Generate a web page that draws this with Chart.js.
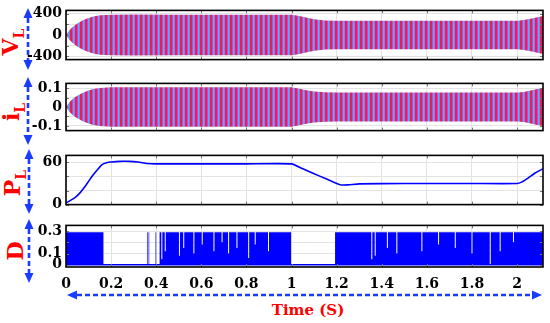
<!DOCTYPE html>
<html lang="en">
<head>
<meta charset="UTF-8">
<script src="https://cdn.jsdelivr.net/npm/chart.js"></script>
<style>
  body { margin: 0; background: #fff; width: 550px; height: 323px; overflow: hidden; position: relative; font-family: "DejaVu Serif", serif; }
  canvas { position: absolute; left: 0; }
  svg { position: absolute; left: 0; top: 0; }
  .ttl { position: absolute; color: #f00; font-weight: bold; font-size: 22px; white-space: nowrap;
         transform: translate(-50%, -50%) rotate(-90deg); }
  .ttl sub { font-size: 14px; }
  #xt { position: absolute; left: 308px; top: 310px; transform: translate(-50%, -50%); color: #f00; font-weight: bold; font-size: 15px; white-space: nowrap; }
</style>
</head>
<body>
<svg id="arrows" width="550" height="323"></svg>
<div class="ttl" style="left:12px;top:42px">V<sub>L</sub></div>
<div class="ttl" style="left:13px;top:112px">i<sub>L</sub></div>
<div class="ttl" style="left:14px;top:183px">P<sub>L</sub></div>
<div class="ttl" style="left:15px;top:251px">D</div>
<div id="xt">Time (S)</div>
<script>
// shared time axis
const xMax = 2.115;
const xTicks = [0, 0.2, 0.4, 0.6, 0.8, 1, 1.2, 1.4, 1.6, 1.8, 2];

// envelope of V_L and i_L
const envTime = [0, 0.015, 0.032, 0.05, 0.077, 0.1, 0.121, 0.15, 0.2, 0.3, 0.5, 0.8, 1.0, 1.03, 1.06, 1.1, 1.15, 1.2, 1.5, 2.0, 2.03, 2.06, 2.09, 2.115];
const vEnv = [0, 90, 160, 215, 280, 320, 345, 370, 380, 385, 380, 380, 380, 360, 330, 295, 272, 267, 267, 267, 280, 305, 330, 355];
const iEnv = [0, 0.025, 0.045, 0.06, 0.077, 0.088, 0.095, 0.1, 0.104, 0.105, 0.104, 0.104, 0.104, 0.098, 0.09, 0.082, 0.078, 0.077, 0.077, 0.077, 0.08, 0.088, 0.095, 0.1];

// P_L
const pTime = [0, 0.02, 0.04, 0.06, 0.08, 0.1, 0.12, 0.14, 0.16, 0.18, 0.2, 0.24, 0.28, 0.32, 0.36, 0.4, 0.6, 0.8, 1.0, 1.05, 1.1, 1.15, 1.2, 1.22, 1.25, 1.3, 1.5, 1.8, 2.0, 2.02, 2.05, 2.08, 2.115];
const pVal = [2.5, 6, 10, 16, 24, 33, 42, 50, 57, 59.5, 60.5, 61.5, 61.5, 60.5, 58.5, 58, 58, 58, 58, 51, 44, 37, 30, 28, 28, 29.5, 30, 30, 30, 32, 38, 45, 51];

// D : switching intervals and white gaps [time, level]
const dHigh = 0.29, dLow = 0;
const dOn = [[0, 0.166], [0.359, 0.362], [0.366, 0.369], [0.373, 0.376], [0.386, 0.388], [0.397, 0.4], [0.405, 0.407], [0.415, 0.998], [1.193, 2.115]];
const dGaps = [[0.425, 0.05], [0.44, 0.12], [0.503, 0.08], [0.522, 0.15], [0.567, 0.1], [0.604, 0.18], [0.656, 0.12], [0.692, 0.2], [0.721, 0.1], [0.758, 0.15], [0.81, 0.06], [0.839, 0.18], [0.898, 0.12],
               [1.356, 0.05], [1.371, 0.08], [1.425, 0.15], [1.467, 0.1], [1.578, 0.12], [1.652, 0.18], [1.726, 0.15], [1.8, 0.1], [1.881, 0], [1.925, 0.12], [1.984, 0.2]];

const tickFont = { family: "DejaVu Serif", size: 14, weight: "bold" };
const gridCol = "#e3e3e3";

function stripes() {
  const c = document.createElement("canvas");
  c.width = 5; c.height = 1;
  const g = c.getContext("2d");
  ["#ff1744", "#ff1744", "#d63cd6", "#3fb6ff", "#6f86ff"].forEach((col, i) => { g.fillStyle = col; g.fillRect(i, 0, 1, 1); });
  return g.createPattern(c, "repeat");
}

function buildD() {
  const w = 0.0022;
  const pts = [{ x: 0, y: dLow }];
  dOn.forEach(([a, b]) => {
    pts.push({ x: a, y: dLow }, { x: a, y: dHigh });
    dGaps.filter(g => g[0] > a && g[0] < b).forEach(([t, l]) => {
      pts.push({ x: t - w, y: dHigh }, { x: t - w, y: l }, { x: t + w, y: l }, { x: t + w, y: dHigh });
    });
    pts.push({ x: b, y: dHigh }, { x: b, y: dLow });
  });
  pts.push({ x: xMax, y: dLow });
  return pts;
}

const boxPlugin = {
  id: "box",
  afterDraw(c) {
    const a = c.chartArea, ctx = c.ctx;
    ctx.save();
    ctx.strokeStyle = "#777";
    ctx.lineWidth = 1;
    ctx.beginPath();
    xTicks.forEach(v => {
      const px = Math.round(c.scales.x.getPixelForValue(v)) + 0.5;
      ctx.moveTo(px, a.top); ctx.lineTo(px, a.top + 3);
      ctx.moveTo(px, a.bottom); ctx.lineTo(px, a.bottom - 3);
    });
    c.scales.y.ticks.forEach(t => {
      const py = Math.round(c.scales.y.getPixelForValue(t.value)) + 0.5;
      ctx.moveTo(a.left, py); ctx.lineTo(a.left + 3, py);
      ctx.moveTo(a.right, py); ctx.lineTo(a.right - 3, py);
    });
    ctx.stroke();
    ctx.strokeStyle = "#000";
    ctx.lineWidth = 1.6;
    ctx.strokeRect(a.left, a.top, a.right - a.left, a.bottom - a.top);
    ctx.restore();
  }
};

function makePanel(top, bottom, yMin, yMax, yTicks, yLabels, datasets, last) {
  const pad = 12, xh = last ? 30 : 0;
  const cv = document.createElement("canvas");
  cv.width = 550;
  cv.height = bottom - top + pad + (last ? xh : pad);
  cv.style.top = (top - pad) + "px";
  document.body.appendChild(cv);
  return new Chart(cv, {
    type: "line",
    data: { datasets },
    options: {
      responsive: false, animation: false, devicePixelRatio: 1,
      layout: { padding: { top: pad, bottom: last ? 0 : pad, left: 0, right: 7 } },
      plugins: { legend: { display: false }, tooltip: { enabled: false } },
      elements: { point: { radius: 0 } },
      scales: {
        x: {
          type: "linear", min: 0, max: xMax,
          afterBuildTicks: s => { s.ticks = xTicks.map(v => ({ value: v })); },
          afterFit: s => { s.height = xh; },
          grid: { color: gridCol, drawTicks: false },
          border: { display: false },
          ticks: { display: last, padding: 9, font: tickFont, color: "#000", maxRotation: 0, autoSkip: false,
                   callback: v => String(Math.round(v * 10) / 10) }
        },
        y: {
          min: yMin, max: yMax,
          afterBuildTicks: s => { s.ticks = yTicks.map(v => ({ value: v })); },
          afterFit: s => { s.width = 66; },
          grid: { color: gridCol, drawTicks: false },
          border: { display: false },
          ticks: { padding: 4, font: tickFont, color: "#000", autoSkip: false,
                   callback: v => (yLabels.includes(v) ? String(v) : "") }
        }
      }
    },
    plugins: [boxPlugin]
  });
}

const pat = stripes();
const band = (env) => [
  { data: envTime.map((t, i) => ({ x: t, y: env[i] })), fill: { value: 0 }, backgroundColor: pat, borderColor: "rgba(0,0,0,0)", borderWidth: 0 },
  { data: envTime.map((t, i) => ({ x: t, y: -env[i] })), fill: { value: 0 }, backgroundColor: pat, borderColor: "rgba(0,0,0,0)", borderWidth: 0 }
];

makePanel(10, 60, -460, 460, [-400, -200, 0, 200, 400], [-400, 0, 400], band(vEnv), false);
makePanel(83, 131, -0.125, 0.125, [-0.1, -0.05, 0, 0.05, 0.1], [-0.1, 0, 0.1], band(iEnv), false);
makePanel(155, 205, 0, 70, [0, 20, 40, 60], [0, 60], [
  { data: pTime.map((t, i) => ({ x: t, y: pVal[i] })), borderColor: "#0000ff", borderWidth: 1.6, tension: 0.15, fill: false }
], false);
makePanel(225, 267, -0.02, 0.35, [0, 0.1, 0.2, 0.3], [0, 0.1, 0.3], [
  { data: buildD(), fill: { value: dLow }, backgroundColor: "#0000ff", borderColor: "rgba(0,0,0,0)", borderWidth: 0 },
  { data: [{ x: 0, y: dLow }, { x: xMax, y: dLow }], borderColor: "#0000ff", borderWidth: 1.6, fill: false }
], true);

// dashed blue double arrows
const svg = document.getElementById("arrows");
const blue = "#1a3cff";
function arrow(x1, y1, x2, y2) {
  const ns = "http://www.w3.org/2000/svg";
  const dx = x2 - x1, dy = y2 - y1, len = Math.hypot(dx, dy), ux = dx / len, uy = dy / len;
  const hl = 10, hw = 4.5;
  const ln = document.createElementNS(ns, "line");
  ln.setAttribute("x1", x1 + ux * hl); ln.setAttribute("y1", y1 + uy * hl);
  ln.setAttribute("x2", x2 - ux * hl); ln.setAttribute("y2", y2 - uy * hl);
  ln.setAttribute("stroke", blue); ln.setAttribute("stroke-width", "2.6"); ln.setAttribute("stroke-dasharray", "5,3");
  svg.appendChild(ln);
  [[x1, y1, 1], [x2, y2, -1]].forEach(([tx, ty, s]) => {
    const bx = tx + s * ux * hl, by = ty + s * uy * hl;
    const p = document.createElementNS(ns, "polygon");
    p.setAttribute("points", `${tx},${ty} ${bx - uy * hw},${by + ux * hw} ${bx + uy * hw},${by - ux * hw}`);
    p.setAttribute("fill", blue);
    svg.appendChild(p);
  });
}
arrow(28, 8, 28, 70);
arrow(28, 77, 28, 145);
arrow(29, 149, 29, 214);
arrow(29, 219, 29, 283);
arrow(67, 295, 542, 295);
</script>
</body>
</html>
